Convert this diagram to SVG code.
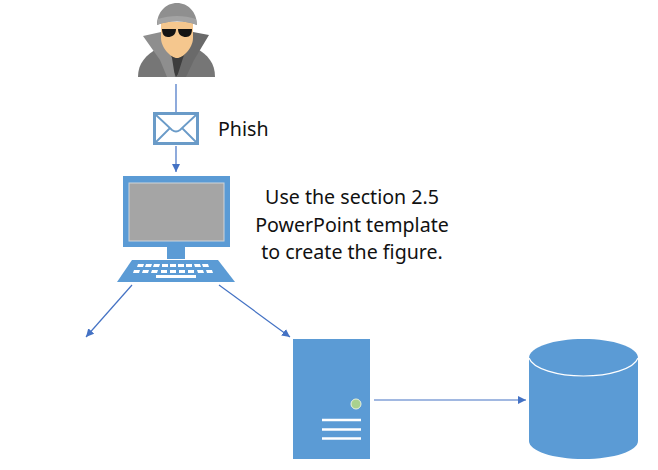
<svg xmlns="http://www.w3.org/2000/svg" width="658" height="470" viewBox="0 0 658 470">
<style>
.t{font-family:"Noto Sans","Liberation Sans",sans-serif;font-size:19.600px;fill:#111}
.c{stroke:#4472c4;stroke-width:1.200;fill:none;marker-end:url(#a)}
.p{stroke:#4472c4;stroke-width:1.200;fill:none}
.b{fill:#5b9bd5}
.w{fill:#fff}
</style>
<defs><marker id="a" markerWidth="9" markerHeight="9" refX="8" refY="4" orient="auto" markerUnits="userSpaceOnUse"><path d="M0 0L8 4L0 8Z" fill="#4472c4"/></marker></defs>
<rect width="658" height="470" fill="#fff"/>
<g id="connectors">
<path class="p" d="M176 84V112"/>
<path class="c" d="M176 146V172"/>
<path class="c" d="M132 285L86 337"/>
<path class="c" d="M219 285L290 337"/>
<path class="c" d="M374 400H526"/>
</g>
<g id="spy">
<path d="M138 77C138 63 146 55 158 48L196 48C208 55 215 63 215 77Z" fill="#767676"/>
<path d="M169 54H186L183 68L176 77L172 68Z" fill="#3d3d3d"/>
<path d="M143 36L161 32L172 58L175 77H167L160 60Z" fill="#8e8e8e"/>
<path d="M209 35L193 32L183 58L177 77H186L194 60Z" fill="#6a6a6a"/>
<path d="M161 22H193V38C193 48 183 58 177 58C171 58 161 48 161 38Z" fill="#f5c78e"/>
<path d="M162 29H176C176 35 172 37 168 37C164 37 162 34 162 29ZM178 29H192C192 34 190 37 186 37C182 37 178 35 178 29Z" fill="#141414"/>
<path d="M157 25C157 12 166 3 177 3C188 3 197 12 197 25C184 20 170 20 157 25Z" fill="#8f8f8f"/>
<path d="M157 25C170 20 184 20 197 25L196 19C184 15 170 15 158 19Z" fill="#a3a3a3"/>
</g>
<g id="envelope">
<rect x="154.500" y="113.500" width="43" height="30" fill="#fff" stroke="#6a9bc8" stroke-width="3"/>
<path d="M156 115L172 130Q176 133 180 130L196 115M156 142L170 128M196 142L182 128" fill="none" stroke="#6a9bc8" stroke-width="1.800"/>
</g>
<g id="phish-label"><text class="t" x="218" y="136">Phish</text></g>
<g id="computer">
<rect class="b" x="123" y="176" width="107" height="71"/>
<rect x="129" y="183" width="95" height="58" fill="#a5a5a5" stroke="#d0d5da" stroke-width="1"/>
<rect class="b" x="167" y="247" width="18" height="12"/>
<path class="b" d="M132 260H218L235 282H117Z"/>
<g class="w">
<path d="M138 264h6l-1 3h-6zM146 264h6l-1 3h-6zM154 264h6l-1 3h-6zM162 264h6v3h-6zM170 264h6v3h-6zM178 264h6v3h-6zM186 264h6v3h-6zM194 264h6l1 3h-6zM202 264h6l1 3h-6z"/>
<path d="M134 270h6l-1 3h-6zM143 270h6l-1 3h-6zM152 270h6l-1 3h-6zM161 270h6v3h-6zM170 270h6v3h-6zM179 270h6v3h-6zM188 270h6v3h-6zM197 270h6l1 3h-6zM206 270h6l1 3h-6z"/>
<rect x="156" y="275" width="40" height="3"/>
</g>
</g>
<g id="note"><text class="t" text-anchor="middle"><tspan x="352" y="204">Use the section 2.5</tspan><tspan x="352" y="232">PowerPoint template</tspan><tspan x="352" y="259">to create the figure.</tspan></text></g>
<g id="server">
<rect class="b" x="293" y="339" width="77" height="120"/>
<circle cx="356" cy="404" r="5" fill="#a9d18e" stroke="#e8f0e0" stroke-width="1"/>
<path d="M322 420H361M322 429.500H361M322 438.500H361" stroke="#fff" stroke-width="2.500"/>
</g>
<g id="database">
<path class="b" d="M529 358V441C529 451 553 459 583.500 459S638 451 638 441V358C638 347 613 339 583.500 339S529 347 529 358Z"/>
<path d="M529 358C533 369 558 376 583.500 376S634 369 638 358" fill="none" stroke="#fff" stroke-width="1.200"/>
</g>
</svg>
